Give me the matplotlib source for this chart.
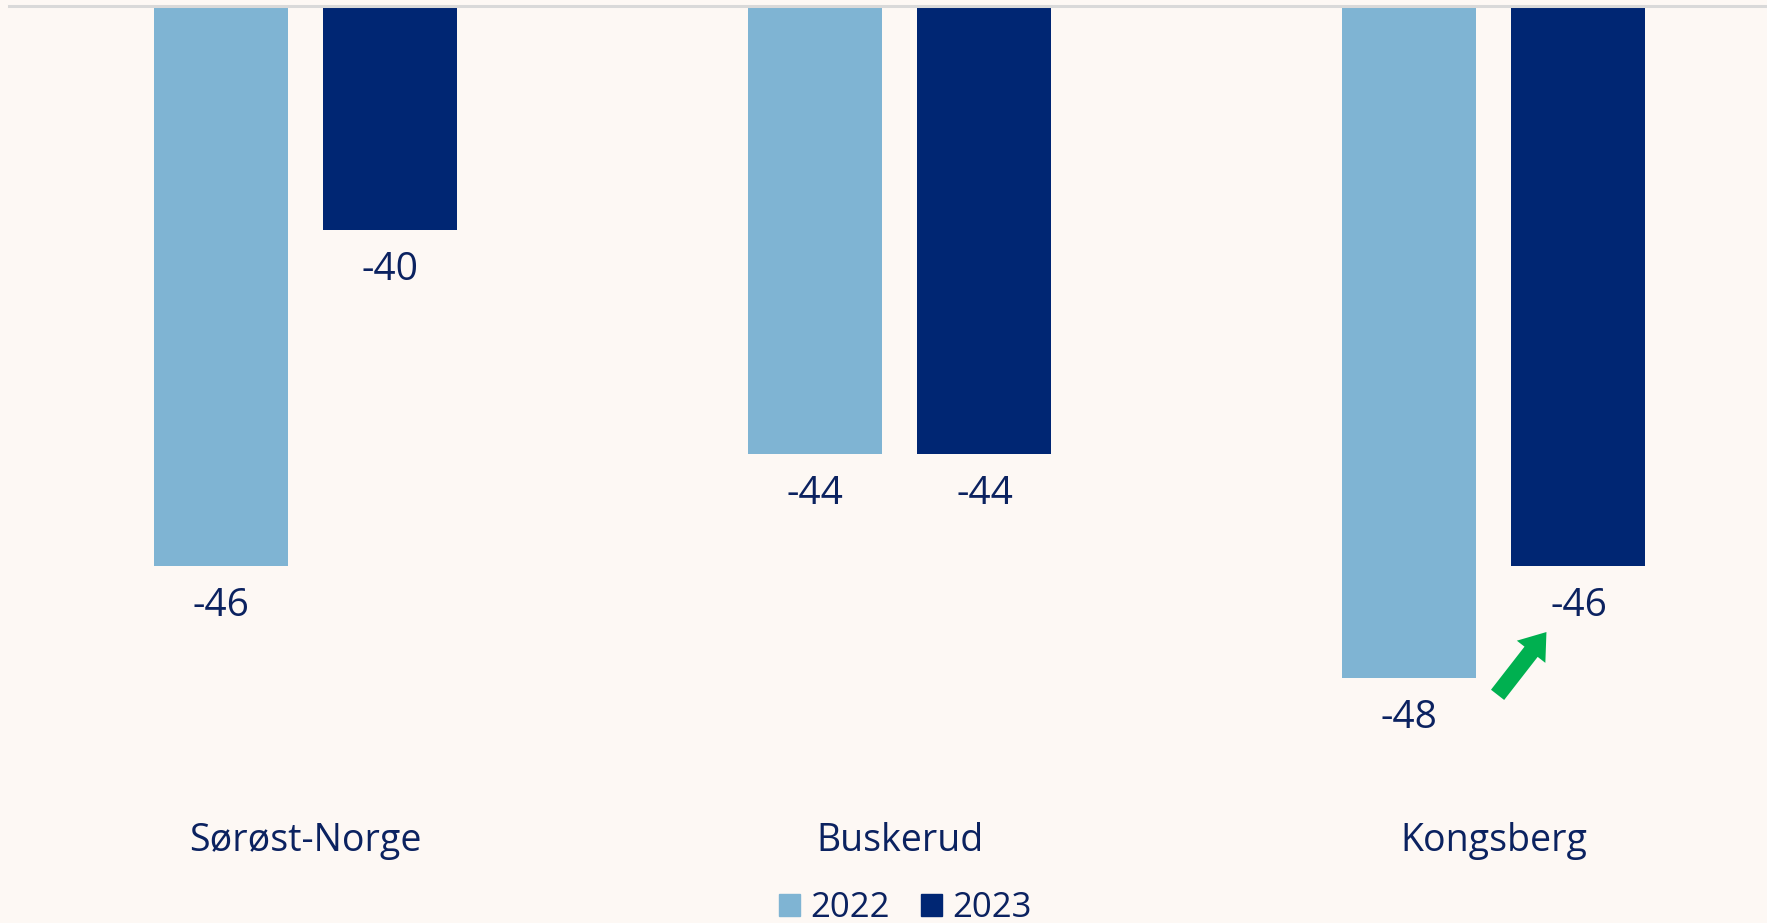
import matplotlib
matplotlib.use('Agg')
import matplotlib.pyplot as plt
from matplotlib.patches import Patch
import numpy as np

plt.rcParams['font.family'] = ['Open Sans', 'DejaVu Sans']

categories = ['Sørøst-Norge', 'Buskerud', 'Kongsberg']
years = ['2022', '2023']
values_2022 = [-46, -44, -48]
values_2023 = [-40, -44, -46]

C_LIGHT = '#7FB4D3'
C_DARK = '#002673'
C_TEXT = '#0B2260'
BG = '#FDF8F4'

W, H = 1767, 923
fig = plt.figure(figsize=(W / 100, H / 100), dpi=100, facecolor=BG)
# axes spans slightly past the right edge, like the source
ax = fig.add_axes([8.5 / W, 1 - 790 / H, 1782 / W, 784 / H], facecolor=BG)

x = np.arange(len(categories))
bw = 0.2256
off = 0.143
b1 = ax.bar(x - off, values_2022, bw, color=C_LIGHT)
b2 = ax.bar(x + off, values_2023, bw, color=C_DARK)

ax.set_xlim(-0.5, 2.5)
ax.set_ylim(-50, -36)
ax.axhline(-36, color='#D9D9D9', lw=2.2, zorder=5, clip_on=False)

for bars, vals in ((b1, values_2022), (b2, values_2023)):
    for r, v in zip(bars, vals):
        ax.annotate(f'{v}', (r.get_x() + r.get_width() / 2, v),
                    xytext=(0, -29), textcoords='offset points',
                    ha='center', va='center', fontsize=28, color=C_TEXT)

ax.set_xticks(x, categories)
ax.tick_params(axis='x', length=0, pad=23, labelsize=27, labelcolor=C_TEXT)
ax.set_yticks([])
for s in ax.spines.values():
    s.set_visible(False)

# green arrow pointing at Kongsberg 2023
ax.annotate('', xy=(2.092, -47.14), xytext=(2.004, -48.34),
            arrowprops=dict(arrowstyle='simple,head_width=1.3,head_length=0.9,tail_width=0.6',
                            mutation_scale=20, color='#00B050', lw=0))

handles = [Patch(color=C_LIGHT), Patch(color=C_DARK)]
fig.legend(handles, years, loc='center', bbox_to_anchor=(905 / W, 1 - 908 / H),
           ncol=2, frameon=False, fontsize=25, labelcolor=C_TEXT,
           handlelength=0.6, handleheight=0.6, handletextpad=0.3,
           columnspacing=0.9, borderaxespad=0, borderpad=0)

fig.savefig('out.png', dpi=100, facecolor=BG)
